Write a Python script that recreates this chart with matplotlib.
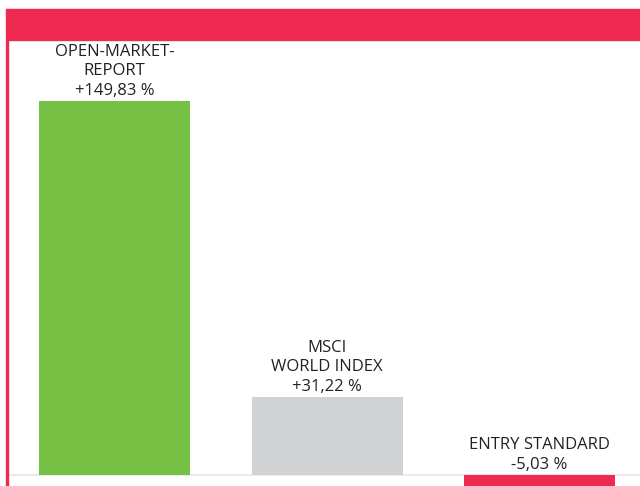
import matplotlib.pyplot as plt
from matplotlib.patches import Rectangle

labels = ['OPEN-MARKET-\nREPORT', 'MSCI\nWORLD INDEX', 'ENTRY STANDARD']
values = [149.83, 31.22, -5.03]
value_text = ['+149,83 %', '+31,22 %', '-5,03 %']
colors = ['#76c043', '#d1d2d4', '#ee2a50']

red = '#ee2a50'

fig = plt.figure(figsize=(6.4, 4.86), dpi=100)
W, H = 640, 486

# red header band and left frame line
fig.patches.append(Rectangle((7 / W, 1 - 40 / H), 633 / W, 31 / H,
                             transform=fig.transFigure, color=red, zorder=0))
fig.patches.append(Rectangle((6 / W, 0), 2.2 / W, 1 - 9 / H,
                             transform=fig.transFigure, color=red, zorder=0))

ax = fig.add_axes([9 / W, 0, 631 / W, 1 - 41 / H])
ax.set_xlim(-0.497, 2.473)
ax.set_ylim(-4.41, 173.9)
ax.axis('off')

x = range(len(values))
ax.bar(x, values, width=0.711, color=colors, zorder=2)
ax.axhline(0, color='#e6e6e6', lw=1.2, zorder=1)

for i, v in enumerate(values):
    ax.annotate(labels[i] + '\n' + value_text[i], (i, max(v, 0)),
                xytext=(0, 1.5), textcoords='offset points',
                ha='center', va='bottom', fontsize=12, color='#222222',
                linespacing=1.3, family='Open Sans')

fig.savefig('out.png', dpi=100)
